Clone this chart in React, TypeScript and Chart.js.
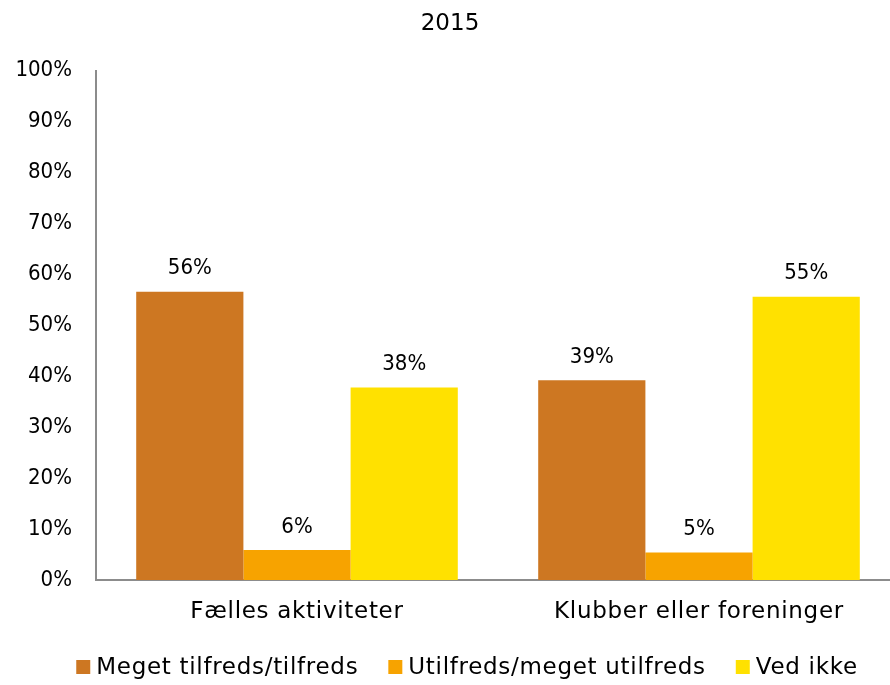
import React, { useEffect, useRef } from "react";
import { Chart, registerables } from "chart.js";

Chart.register(...registerables);

const title = "2015";
const categories = ["Fælles aktiviteter", "Klubber eller foreninger"];
const seriesNames = ["Meget tilfreds/tilfreds", "Utilfreds/meget utilfreds", "Ved ikke"];
const seriesColors = ["#CD7722", "#F7A300", "#FFE100"];
const tilfreds = [56.6, 39.2];
const utilfreds = [5.9, 5.4];
const vedIkke = [37.8, 55.6];
const tilfredsLabels = ["56%", "39%"];
const utilfredsLabels = ["6%", "5%"];
const vedIkkeLabels = ["38%", "55%"];
const yTicks = [0, 10, 20, 30, 40, 50, 60, 70, 80, 90, 100];

const FONT_C = "'DejaVu Sans Condensed', 'DejaVu Sans', sans-serif";
const FONT_W = "'DejaVu Sans', sans-serif";
const FS_C = 22;
const FS_W = 23;

const labelPlugin = {
  id: "barLabels",
  afterDatasetsDraw(chart: any) {
    const ctx = chart.ctx;
    ctx.save();
    ctx.font = `${FS_C}px ${FONT_C}`;
    ctx.fillStyle = "#000";
    ctx.textAlign = "center";
    ctx.textBaseline = "middle";
    chart.data.datasets.forEach((ds: any, i: number) => {
      const meta = chart.getDatasetMeta(i);
      meta.data.forEach((bar: any, j: number) => {
        ctx.fillText(ds.valueLabels[j], bar.x, bar.y - 23);
      });
    });
    ctx.restore();
  },
};

const categoryPlugin = {
  id: "categoryLabels",
  afterDraw(chart: any) {
    const ctx = chart.ctx;
    const xs = chart.scales.x;
    ctx.save();
    ctx.font = `${FS_W}px ${FONT_W}`;
    (ctx as any).letterSpacing = "0.7px";
    ctx.fillStyle = "#000";
    ctx.textAlign = "center";
    ctx.textBaseline = "middle";
    categories.forEach((c, i) => {
      ctx.fillText(c, xs.getPixelForValue(i), 612);
    });
    ctx.restore();
  },
};

const legendPlugin = {
  id: "customLegend",
  afterDraw(chart: any) {
    const ctx = chart.ctx;
    ctx.save();
    ctx.font = `${FS_W}px ${FONT_W}`;
    (ctx as any).letterSpacing = "0.7px";
    ctx.textBaseline = "middle";
    ctx.textAlign = "left";
    const box = 14;
    const gap = 6;
    const spacing = 30;
    const widths = seriesNames.map((n) => box + gap + ctx.measureText(n).width);
    const total = widths.reduce((a, b) => a + b, 0) + spacing * (widths.length - 1);
    let x = 467 - total / 2;
    const y = 667;
    seriesNames.forEach((n, i) => {
      ctx.fillStyle = seriesColors[i];
      ctx.fillRect(x, y - box / 2, box, box);
      ctx.fillStyle = "#000";
      ctx.fillText(n, x + box + gap, y + 1);
      x += widths[i] + spacing;
    });
    ctx.restore();
  },
};

export default function App() {
  const ref = useRef<HTMLCanvasElement>(null);
  useEffect(() => {
    if (!ref.current) return;
    const chart = new Chart(ref.current, {
      type: "bar",
      data: {
        labels: categories,
        datasets: [
          { label: seriesNames[0], data: tilfreds, backgroundColor: seriesColors[0], valueLabels: tilfredsLabels } as any,
          { label: seriesNames[1], data: utilfreds, backgroundColor: seriesColors[1], valueLabels: utilfredsLabels } as any,
          { label: seriesNames[2], data: vedIkke, backgroundColor: seriesColors[2], valueLabels: vedIkkeLabels } as any,
        ],
      },
      options: {
        animation: false,
        responsive: false,
        maintainAspectRatio: false,
        layout: { padding: { left: 0, right: 25, top: 0, bottom: 61 } },
        datasets: { bar: { categoryPercentage: 0.8, barPercentage: 1.0 } },
        plugins: {
          legend: { display: false },
          tooltip: { enabled: false },
          title: {
            display: true,
            text: title,
            color: "#000",
            font: { family: FONT_W, size: FS_W, weight: "normal" },
            padding: { top: 10, bottom: 33 },
          },
        },
        scales: {
          x: {
            afterFit: (s: any) => { s.height = 44; },
            grid: { display: false, drawTicks: false },
            border: { display: true, color: "#8c8c8c", width: 2 },
            ticks: { display: false },
          },
          y: {
            min: 0,
            max: 100,
            afterFit: (s: any) => { s.width = 96; },
            afterBuildTicks: (s: any) => { s.ticks = yTicks.map((v) => ({ value: v })); },
            grid: { display: false, drawTicks: false },
            border: { display: true, color: "#8c8c8c", width: 2 },
            ticks: { color: "#000", font: { family: FONT_C, size: FS_C }, padding: 24, callback: (v: any) => v + "%" },
          },
        },
      },
      plugins: [labelPlugin, categoryPlugin, legendPlugin],
    });
    return () => chart.destroy();
  }, []);
  return (
    <div style={{ position: "absolute", left: 0, top: 0, width: 890, height: 685, overflow: "hidden", background: "#fff" }}>
      <canvas ref={ref} width={925} height={685} style={{ display: "block" }} />
    </div>
  );
}
